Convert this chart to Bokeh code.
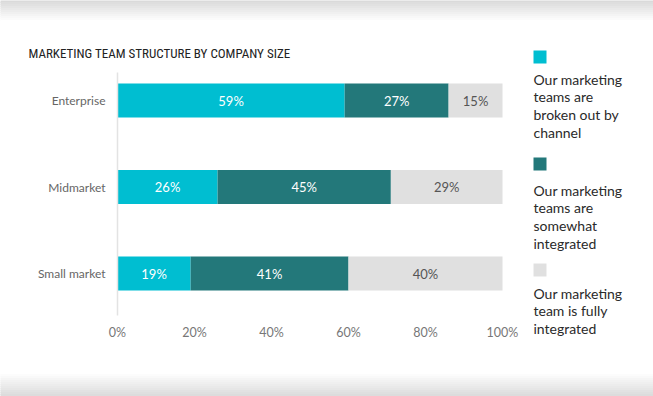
from bokeh.plotting import figure
from bokeh.models import (ColumnDataSource, Range1d, FixedTicker, PrintfTickFormatter,
                          Label, BoxAnnotation, LinearAxis)
from bokeh.core.properties import value
from bokeh.embed import file_html
from bokeh.resources import INLINE

# ---- data ----
categories = ["Enterprise", "Midmarket", "Small market"]
broken_out = [59, 26, 19]
somewhat = [27, 45, 41]
fully = [15, 29, 40]
series_names = [
    "Our marketing\nteams are\nbroken out by\nchannel",
    "Our marketing\nteams are\nsomewhat\nintegrated",
    "Our marketing\nteam is fully\nintegrated",
]
x_ticks = [0, 20, 40, 60, 80, 100]
title_text = "MARKETING TEAM STRUCTURE BY COMPANY SIZE"

colors = ["#00BED1", "#23787A", "#E0E0E0"]
label_colors = ["#FFFFFF", "#FFFFFF", "#555555"]
FONT = "Lato"

W, H = 653, 396
X0, X100 = 117, 502            # page x of 0% and 100%
Y_TOP_CAT, ROW = 100, 86.5     # page y of first category centre, pixel spacing of rows
AX_TOP, AX_BOT = 72, 315       # y-axis line extent (page y)

ncat = len(categories)
ypos = [ncat - 1 - i for i in range(ncat)]
pxu = (X100 - X0) / 100.0


def ydata(Y):
    return (ncat - 1) - (Y - Y_TOP_CAT) / ROW


p = figure(width=W, height=H, output_backend="svg", toolbar_location=None,
           x_range=Range1d(-X0 / pxu, (W - X0) / pxu),
           y_range=Range1d(ydata(H), ydata(0)),
           min_border=0, x_axis_location=None, y_axis_location=None)
p.outline_line_color = None
p.grid.visible = False
p.background_fill_color = "white"
p.border_fill_color = "white"


def sx(X):
    return X


def sy(Y):
    return H - Y


# background gradient bands (top and bottom of the page)
def band(y0, y1, c0, c1, steps):
    for i in range(steps):
        t = i / (steps - 1)
        g = round(c0 + (c1 - c0) * t)
        top = y0 + (y1 - y0) * i / steps
        bot = y0 + (y1 - y0) * (i + 1) / steps
        p.add_layout(BoxAnnotation(left=sx(-2), right=sx(W + 2), top=sy(top - 0.6), bottom=sy(bot + 0.6),
                                   left_units="screen", right_units="screen",
                                   top_units="screen", bottom_units="screen",
                                   fill_color=f"#{g:02x}{g:02x}{g:02x}", fill_alpha=1,
                                   line_color=None, level="underlay"))


band(0, 22, 0xDA, 0xFF, 11)
band(372, 396, 0xFF, 0xDC, 12)

# bars
series = [broken_out, somewhat, fully]
for k, vals in enumerate(series):
    starts = [sum(v[i] for v in series[:k]) for i in range(ncat)]
    ends = [min(s + v, 100) for s, v in zip(starts, vals)]
    centers = [(s + e) / 2 for s, e in zip(starts, ends)]
    src = ColumnDataSource(dict(y=ypos, left=starts, right=ends, xc=centers,
                                txt=[f"{v}%" for v in vals]))
    p.hbar(y="y", left="left", right="right", height=0.393, color=colors[k],
           line_color=None, source=src)
    p.text(x="xc", y="y", text="txt", text_align="center",
           text_baseline="middle", text_color=label_colors[k],
           text_font=value(FONT), text_font_size="13px", source=src)

# axes (fixed inside the canvas-sized frame)
xa = LinearAxis(fixed_location=ydata(AX_BOT), ticker=FixedTicker(ticks=x_ticks),
                formatter=PrintfTickFormatter(format="%d%%"))
xa.axis_line_color = None
xa.major_tick_line_color = None
xa.major_tick_out = 0
xa.minor_tick_line_color = None
xa.minor_tick_out = 0
xa.major_label_standoff = 9
xa.major_label_text_font = FONT
xa.major_label_text_font_size = "12.5px"
xa.major_label_text_color = "#777777"
p.add_layout(xa, "below")

ya = LinearAxis(fixed_location=0, ticker=FixedTicker(ticks=ypos),
                bounds=(ydata(AX_BOT), ydata(AX_TOP)))
ya.major_label_overrides = {y: c for y, c in zip(ypos, categories)}
ya.axis_line_color = "#E3E3E3"
ya.axis_line_width = 1.5
ya.major_tick_line_color = None
ya.major_tick_out = 0
ya.minor_tick_line_color = None
ya.minor_tick_out = 0
ya.major_label_standoff = 12
ya.major_label_text_font = FONT
ya.major_label_text_font_size = "12px"
ya.major_label_text_color = "#666666"
p.add_layout(ya, "left")

# title
p.add_layout(Label(x=sx(28), y=sy(53), x_units="screen", y_units="screen", text=title_text,
                   text_font="'Roboto Condensed', 'Liberation Sans Narrow', 'DejaVu Sans Condensed', sans-serif",
                   text_font_size="13px", text_color="#222222", text_baseline="middle"))

# legend
sq_tops = [50, 157, 263]
txt_tops = [70, 181, 284]
for c, name, st, tt in zip(colors, series_names, sq_tops, txt_tops):
    p.add_layout(BoxAnnotation(left=sx(533), right=sx(546), top=sy(st), bottom=sy(st + 13),
                               left_units="screen", right_units="screen",
                               top_units="screen", bottom_units="screen",
                               fill_color=c, fill_alpha=1, line_color=None))
    p.add_layout(Label(x=sx(533), y=sy(tt), x_units="screen", y_units="screen", text=name,
                       text_baseline="top", text_align="left", text_color="#2A2A2A",
                       text_font=FONT, text_font_size="14px", text_line_height=1.04))

open("out.html", "w").write(file_html(p, INLINE))
